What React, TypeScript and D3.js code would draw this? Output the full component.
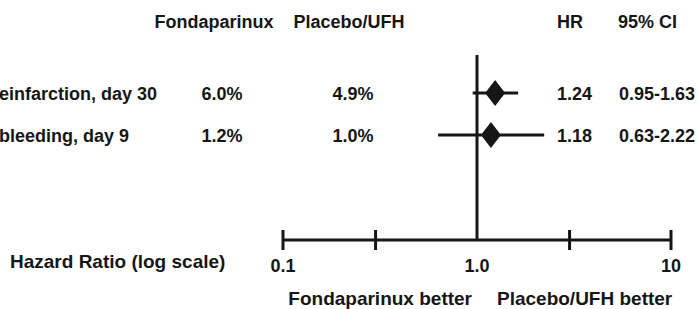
import React from "react";
import * as d3 from "d3";

const outcomes = ["Reinfarction, day 30", "Major bleeding, day 9"];
const fondaRates = ["6.0%", "1.2%"];
const placeboRates = ["4.9%", "1.0%"];
const hazardRatios = [1.24, 1.18];
const ciLow = [0.95, 0.63];
const ciHigh = [1.63, 2.22];
const axisTicks = [0.1, 0.3, 3, 10];
const axisLabels = [0.1, 1, 10];

const W = 698;
const H = 309;
const FONT = "'Liberation Sans', Arial, Helvetica, sans-serif";
const INK = "#161616";

const App = () => {
  const x = d3.scaleLog().domain([0.1, 10]).range([283, 671]);
  const y = d3.scalePoint<number>().domain([0, 1]).range([93, 135]);
  const axisY = 240;

  const diamond = (cx: number, cy: number, hw: number, hh: number) =>
    `M${cx - hw},${cy}L${cx},${cy - hh}L${cx + hw},${cy}L${cx},${cy + hh}Z`;

  const fmt = (d: number) => (d === 1 ? "1.0" : String(d));
  const ci = (i: number) => `${ciLow[i].toFixed(2)}-${ciHigh[i].toFixed(2)}`;

  return (
    <svg
      width={W}
      height={H}
      style={{ position: "absolute", left: 0, top: 0, background: "#fff" }}
      fontFamily={FONT}
      fontWeight="bold"
      fill={INK}
    >
      {/* column headers */}
      <g fontSize={18}>
        <text x={214} y={28} textAnchor="middle">Fondaparinux</text>
        <text x={349} y={28} textAnchor="middle">Placebo/UFH</text>
        <text x={557} y={28}>HR</text>
        <text x={618} y={28}>95% CI</text>
      </g>

      {/* rows */}
      {outcomes.map((o, i) => {
        const cy = y(i)!;
        return (
          <g key={o} fontSize={18}>
            <text x={i === 0 ? 157 : 129} y={cy + 6.5} textAnchor="end">{o}</text>
            <text x={222} y={cy + 6.5} textAnchor="middle">{fondaRates[i]}</text>
            <text x={353} y={cy + 6.5} textAnchor="middle">{placeboRates[i]}</text>
            <text x={557} y={cy + 6.5}>{hazardRatios[i].toFixed(2)}</text>
            <text x={619} y={cy + 6.5}>{ci(i)}</text>
            <line
              x1={x(ciLow[i])}
              x2={x(ciHigh[i])}
              y1={cy}
              y2={cy}
              stroke={INK}
              strokeWidth={3}
            />
            <path d={diamond(x(hazardRatios[i]), cy, 10, 13)} fill={INK} />
          </g>
        );
      })}

      {/* reference line at HR = 1 */}
      <line x1={x(1)} x2={x(1)} y1={55} y2={axisY} stroke={INK} strokeWidth={3} />

      {/* axis */}
      <line x1={x(0.1)} x2={x(10)} y1={axisY} y2={axisY} stroke={INK} strokeWidth={3} />
      {axisTicks.map((t) => (
        <line
          key={t}
          x1={x(t)}
          x2={x(t)}
          y1={axisY - 10}
          y2={axisY + 10}
          stroke={INK}
          strokeWidth={3}
        />
      ))}
      <g fontSize={18}>
        {axisLabels.map((t) => (
          <text key={t} x={x(t)} y={272} textAnchor="middle">
            {fmt(t)}
          </text>
        ))}
        <text x={10} y={268} fontSize={19}>Hazard Ratio (log scale)</text>
        <text x={x(1) - 5} y={305} textAnchor="end" fontSize={19}>Fondaparinux better</text>
        <text x={x(1) + 20} y={305} fontSize={19}>Placebo/UFH better</text>
      </g>
    </svg>
  );
};

export default App;
